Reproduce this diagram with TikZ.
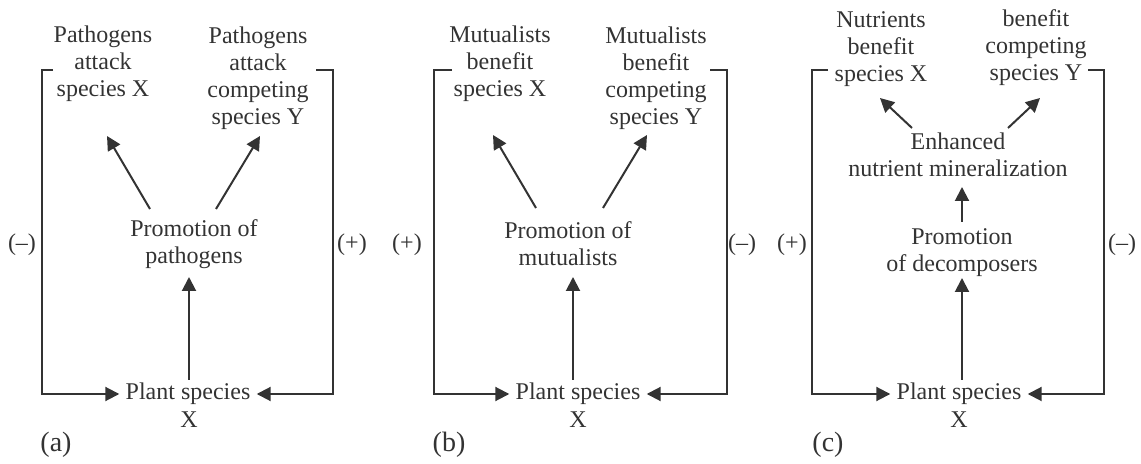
\documentclass[tikz,border=0pt]{standalone}
\usepackage{fontspec}
\setmainfont{Liberation Serif}
\usetikzlibrary{arrows.meta}
\definecolor{ink}{HTML}{333333}

\begin{document}
\begin{tikzpicture}[x=0.5pt,y=-0.5pt,
        txt/.style={align=center,text=ink,inner sep=1pt,font=\fontsize{12}{13.5}\selectfont},
        panel/.style={txt,font=\fontsize{14}{16}\selectfont},
        arr/.style={draw=ink,line width=1pt,-{Triangle[length=7pt,width=7pt]}},
        brk/.style={arr,shorten >=2pt}]
        \useasboundingbox (0,0) rectangle (1141,464);
        % (a) pathogens
        \draw (188,394) node[txt] (ptA) {Plant species};
        \draw (189,420) node[txt] (xA) {X};
        \draw (194,244) node[txt] (promoA) {Promotion of\\pathogens};
        \draw (103,64) node[txt] (atkXA) {Pathogens\\attack\\species X};
        \draw (258,78) node[txt] (atkYA) {Pathogens\\attack\\competing\\species Y};
        \draw (22,245) node[txt] (sgnlA) {(--)};
        \draw (352,245) node[txt] (sgnrA) {(+)};
        \draw (56,445) node[panel] (capA) {(a)};
        \coordinate (lsA) at (53,70);
        \coordinate (rsA) at (316,70);
        \draw[brk] (lsA) -- ++(-11,0) |- (ptA);
        \draw[brk] (rsA) -- ++(17,0) |- (ptA);
        \draw[arr] ([shift={(1,-14)}]ptA.center) -- ([shift={(-5,33)}]promoA.center);
        \draw[arr] ([shift={(-44,-35)}]promoA.center) -- ([shift={(4,72)}]atkXA.center);
        \draw[arr] ([shift={(22,-35)}]promoA.center) -- ([shift={(2,58)}]atkYA.center);
        % (b) mutualists
        \draw (578,394) node[txt] (ptB) {Plant species};
        \draw (578,420) node[txt] (xB) {X};
        \draw (568,244) node[txt] (promoB) {Promotion of\\mutualists};
        \draw (500,64) node[txt] (benXB) {Mutualists\\benefit\\species X};
        \draw (656,78) node[txt] (benYB) {Mutualists\\benefit\\competing\\species Y};
        \draw (407,245) node[txt] (sgnlB) {(+)};
        \draw (742,245) node[txt] (sgnrB) {(--)};
        \draw (449,445) node[panel] (capB) {(b)};
        \coordinate (lsB) at (452,70);
        \coordinate (rsB) at (710,70);
        \draw[brk] (lsB) -- ++(-18,0) |- (ptB);
        \draw[brk] (rsB) -- ++(17,0) |- (ptB);
        \draw[arr] ([shift={(-5,-14)}]ptB.center) -- ([shift={(5,33)}]promoB.center);
        \draw[arr] ([shift={(-32,-36)}]promoB.center) -- ([shift={(-7,71)}]benXB.center);
        \draw[arr] ([shift={(35,-36)}]promoB.center) -- ([shift={(-9,57)}]benYB.center);
        % (c) decomposers
        \draw (959,394) node[txt] (ptC) {Plant species};
        \draw (959,420) node[txt] (xC) {X};
        \draw (962,253) node[txt] (promoC) {Promotion\\of decomposers};
        \draw (958,155) node[txt] (minC) {Enhanced\\nutrient mineralization};
        \draw (881,49) node[txt] (benXC) {Nutrients\\benefit\\species X};
        \draw (1036,48) node[txt] (benYC) {benefit\\competing\\species Y};
        \draw (792,245) node[txt] (sgnlC) {(+)};
        \draw (1122,245) node[txt] (sgnrC) {(--)};
        \draw (828,445) node[panel] (capC) {(c)};
        \coordinate (lsC) at (828,70);
        \coordinate (rsC) at (1088,70);
        \draw[brk] (lsC) -- ++(-16,0) |- (ptC);
        \draw[brk] (rsC) -- ++(16,0) |- (ptC);
        \draw[arr] ([shift={(3,-14)}]ptC.center) -- ([shift={(0,25)}]promoC.center);
        \draw[arr] ([shift={(0,-31)}]promoC.center) -- ([shift={(4,32)}]minC.center);
        \draw[arr] ([shift={(-46,-27)}]minC.center) -- ([shift={(-1,49)}]benXC.center);
        \draw[arr] ([shift={(50,-27)}]minC.center) -- ([shift={(4,50)}]benYC.center);
\end{tikzpicture}
\end{document}
